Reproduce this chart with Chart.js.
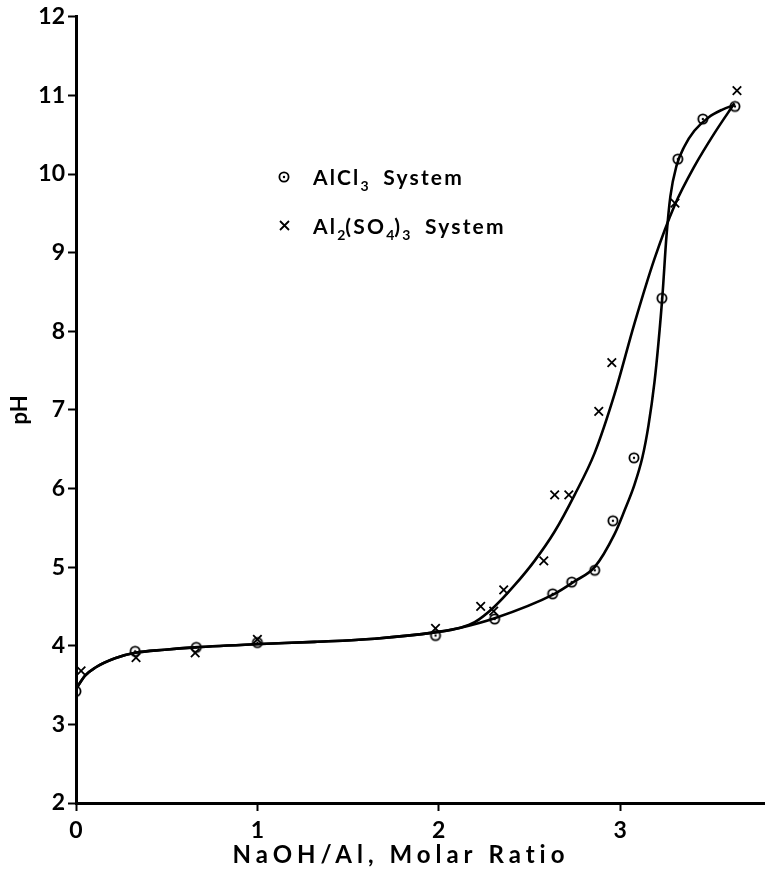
<!DOCTYPE html>
<html>
<head>
<meta charset="utf-8">
<script src="https://cdn.jsdelivr.net/npm/chart.js@4/dist/chart.umd.min.js"></script>
<style>
  html, body { margin: 0; padding: 0; background: #fff; }
  #wrap { width: 772px; height: 879px; position: relative; }
</style>
</head>
<body>
<div id="wrap"><canvas id="c" width="772" height="879"></canvas></div>
<script>
// ---- Data (x read against the printed axis ticks) ----
const alcl3X = [0, 0.326, 0.663, 1.0, 1.982, 2.308, 2.628, 2.733, 2.86, 2.96, 3.076, 3.23, 3.318, 3.456, 3.633];
const alcl3Y = [3.42, 3.93, 3.98, 4.04, 4.13, 4.34, 4.66, 4.81, 4.96, 5.59, 6.39, 8.42, 10.19, 10.7, 10.86];

const al2so4X = [0.028, 0.331, 0.657, 1.0, 1.982, 2.231, 2.303, 2.358, 2.579, 2.639, 2.717, 2.882, 2.954, 3.302, 3.644];
const al2so4Y = [3.68, 3.85, 3.91, 4.08, 4.22, 4.5, 4.44, 4.71, 5.08, 5.92, 5.92, 6.98, 7.6, 9.63, 11.06];

// fitted curves
const alcl3CurveX = [0, 0.05, 0.105, 0.215, 0.325, 0.49, 0.655, 0.985, 1.316, 1.647, 1.977, 2.12, 2.308, 2.638, 2.749, 2.859, 2.969, 3.024, 3.079, 3.123, 3.156, 3.189, 3.211, 3.233, 3.255, 3.277, 3.31, 3.354, 3.409, 3.487, 3.564, 3.63];
const alcl3CurveY = [3.45, 3.62, 3.72, 3.84, 3.91, 3.95, 3.98, 4.02, 4.05, 4.09, 4.17, 4.23, 4.35, 4.66, 4.82, 5.0, 5.42, 5.72, 6.05, 6.4, 6.8, 7.35, 7.85, 8.45, 9.2, 9.72, 10.1, 10.35, 10.55, 10.72, 10.82, 10.88];

const al2so4CurveX = [0, 0.05, 0.105, 0.215, 0.325, 0.49, 0.655, 0.985, 1.316, 1.647, 1.977, 2.12, 2.198, 2.308, 2.418, 2.528, 2.638, 2.749, 2.859, 2.969, 3.079, 3.189, 3.3, 3.41, 3.52, 3.63];
const al2so4CurveY = [3.45, 3.62, 3.72, 3.84, 3.91, 3.95, 3.98, 4.02, 4.05, 4.09, 4.17, 4.23, 4.3, 4.5, 4.77, 5.08, 5.45, 5.92, 6.45, 7.2, 8.1, 8.92, 9.6, 10.1, 10.52, 10.9];

const xTicks = [0, 1, 2, 3];
const yTicks = [2, 3, 4, 5, 6, 7, 8, 9, 10, 11, 12];

const xTitle = 'NaOH/Al, Molar Ratio';
const yTitle = 'pH';

// ---- helpers ----
const zip = (xs, ys) => xs.map((x, i) => ({ x: x, y: ys[i] }));

// circle-with-dot marker
const dotCircle = document.createElement('canvas');
dotCircle.width = 14; dotCircle.height = 14;
(function () {
  const g = dotCircle.getContext('2d');
  g.strokeStyle = '#000'; g.lineWidth = 1.8;
  g.beginPath(); g.arc(7, 7, 4.6, 0, Math.PI * 2); g.stroke();
  g.fillStyle = '#000';
  g.beginPath(); g.arc(7, 7, 1.2, 0, Math.PI * 2); g.fill();
})();

const FONT = 'Lato, "DejaVu Sans", sans-serif';

// legend (with subscripts) and x-axis title, drawn as text
const textPlugin = {
  id: 'subLegend',
  afterDraw(chart) {
    const ctx = chart.ctx;
    ctx.save();
    ctx.fillStyle = '#000';
    ctx.textBaseline = 'alphabetic';
    const big = 'bold 21px ' + FONT;
    const small = 'bold 14px ' + FONT;
    function run(parts, x, y) {
      parts.forEach(p => {
        ctx.font = p[1] ? small : big;
        try { ctx.letterSpacing = p[1] ? '0px' : '2.2px'; } catch (e) {}
        ctx.fillText(p[0], x, y + (p[1] ? 6 : 0));
        x += ctx.measureText(p[0]).width;
      });
    }
    // symbol 1
    ctx.drawImage(dotCircle, 284 - 7, 177 - 7);
    run([['AlCl', 0], ['3', 1], ['  System', 0]], 313, 185);
    // symbol 2 (x)
    ctx.strokeStyle = '#000'; ctx.lineWidth = 1.8;
    ctx.beginPath();
    ctx.moveTo(280, 221); ctx.lineTo(289, 230);
    ctx.moveTo(289, 221); ctx.lineTo(280, 230);
    ctx.stroke();
    run([['Al', 0], ['2', 1], ['(SO', 0], ['4', 1], [')', 0], ['3', 1], ['  System', 0]], 313, 234);

    // x-axis title
    ctx.font = 'bold 24px ' + FONT;
    try { ctx.letterSpacing = '5px'; } catch (e) {}
    ctx.textAlign = 'center';
    ctx.textBaseline = 'middle';
    ctx.fillText(xTitle, 401, 855);
    ctx.restore();
  }
};

new Chart(document.getElementById('c'), {
  type: 'scatter',
  data: {
    datasets: [
      {
        label: 'AlCl3 curve',
        data: zip(alcl3CurveX, alcl3CurveY),
        showLine: true,
        cubicInterpolationMode: 'monotone',
        borderColor: '#000',
        borderWidth: 2.6,
        pointRadius: 0,
        fill: false
      },
      {
        label: 'Al2(SO4)3 curve',
        data: zip(al2so4CurveX, al2so4CurveY),
        showLine: true,
        cubicInterpolationMode: 'monotone',
        borderColor: '#000',
        borderWidth: 2.6,
        pointRadius: 0,
        fill: false
      },
      {
        label: 'AlCl3 System',
        data: zip(alcl3X, alcl3Y),
        pointStyle: dotCircle,
        pointRadius: 7,
        showLine: false
      },
      {
        label: 'Al2(SO4)3 System',
        data: zip(al2so4X, al2so4Y),
        pointStyle: 'crossRot',
        pointRadius: 6,
        borderColor: '#000',
        borderWidth: 1.8,
        showLine: false
      }
    ]
  },
  options: {
    responsive: false,
    animation: false,
    devicePixelRatio: 1,
    layout: { padding: { top: 13, right: 0, left: 0, bottom: 0 } },
    plugins: {
      legend: { display: false },
      tooltip: { enabled: false }
    },
    scales: {
      x: {
        type: 'linear',
        min: 0,
        max: 3.793,
        afterBuildTicks: s => { s.ticks = xTicks.map(v => ({ value: v })); },
        afterFit: s => { s.height = 76; },
        ticks: {
          color: '#000',
          font: { family: FONT, size: 23, weight: 'bold' },
          padding: 6
        },
        grid: { display: true, drawOnChartArea: false, drawTicks: true, tickLength: 8, tickWidth: 2, color: '#000' },
        border: { display: true, color: '#000', width: 3 },
        title: { display: false }
      },
      y: {
        type: 'linear',
        min: 2,
        max: 12,
        afterBuildTicks: s => { s.ticks = yTicks.map(v => ({ value: v })); },
        afterFit: s => { s.width = 76; },
        ticks: {
          color: '#000',
          font: { family: FONT, size: 23, weight: 'bold' },
          padding: 3
        },
        grid: { display: true, drawOnChartArea: false, drawTicks: true, tickLength: 8, tickWidth: 2, color: '#000' },
        border: { display: true, color: '#000', width: 3 },
        title: {
          display: true,
          text: yTitle,
          color: '#000',
          font: { family: FONT, size: 22, weight: 'bold' },
          padding: { top: 7, bottom: 4 }
        }
      }
    }
  },
  plugins: [textPlugin]
});
</script>
</body>
</html>
